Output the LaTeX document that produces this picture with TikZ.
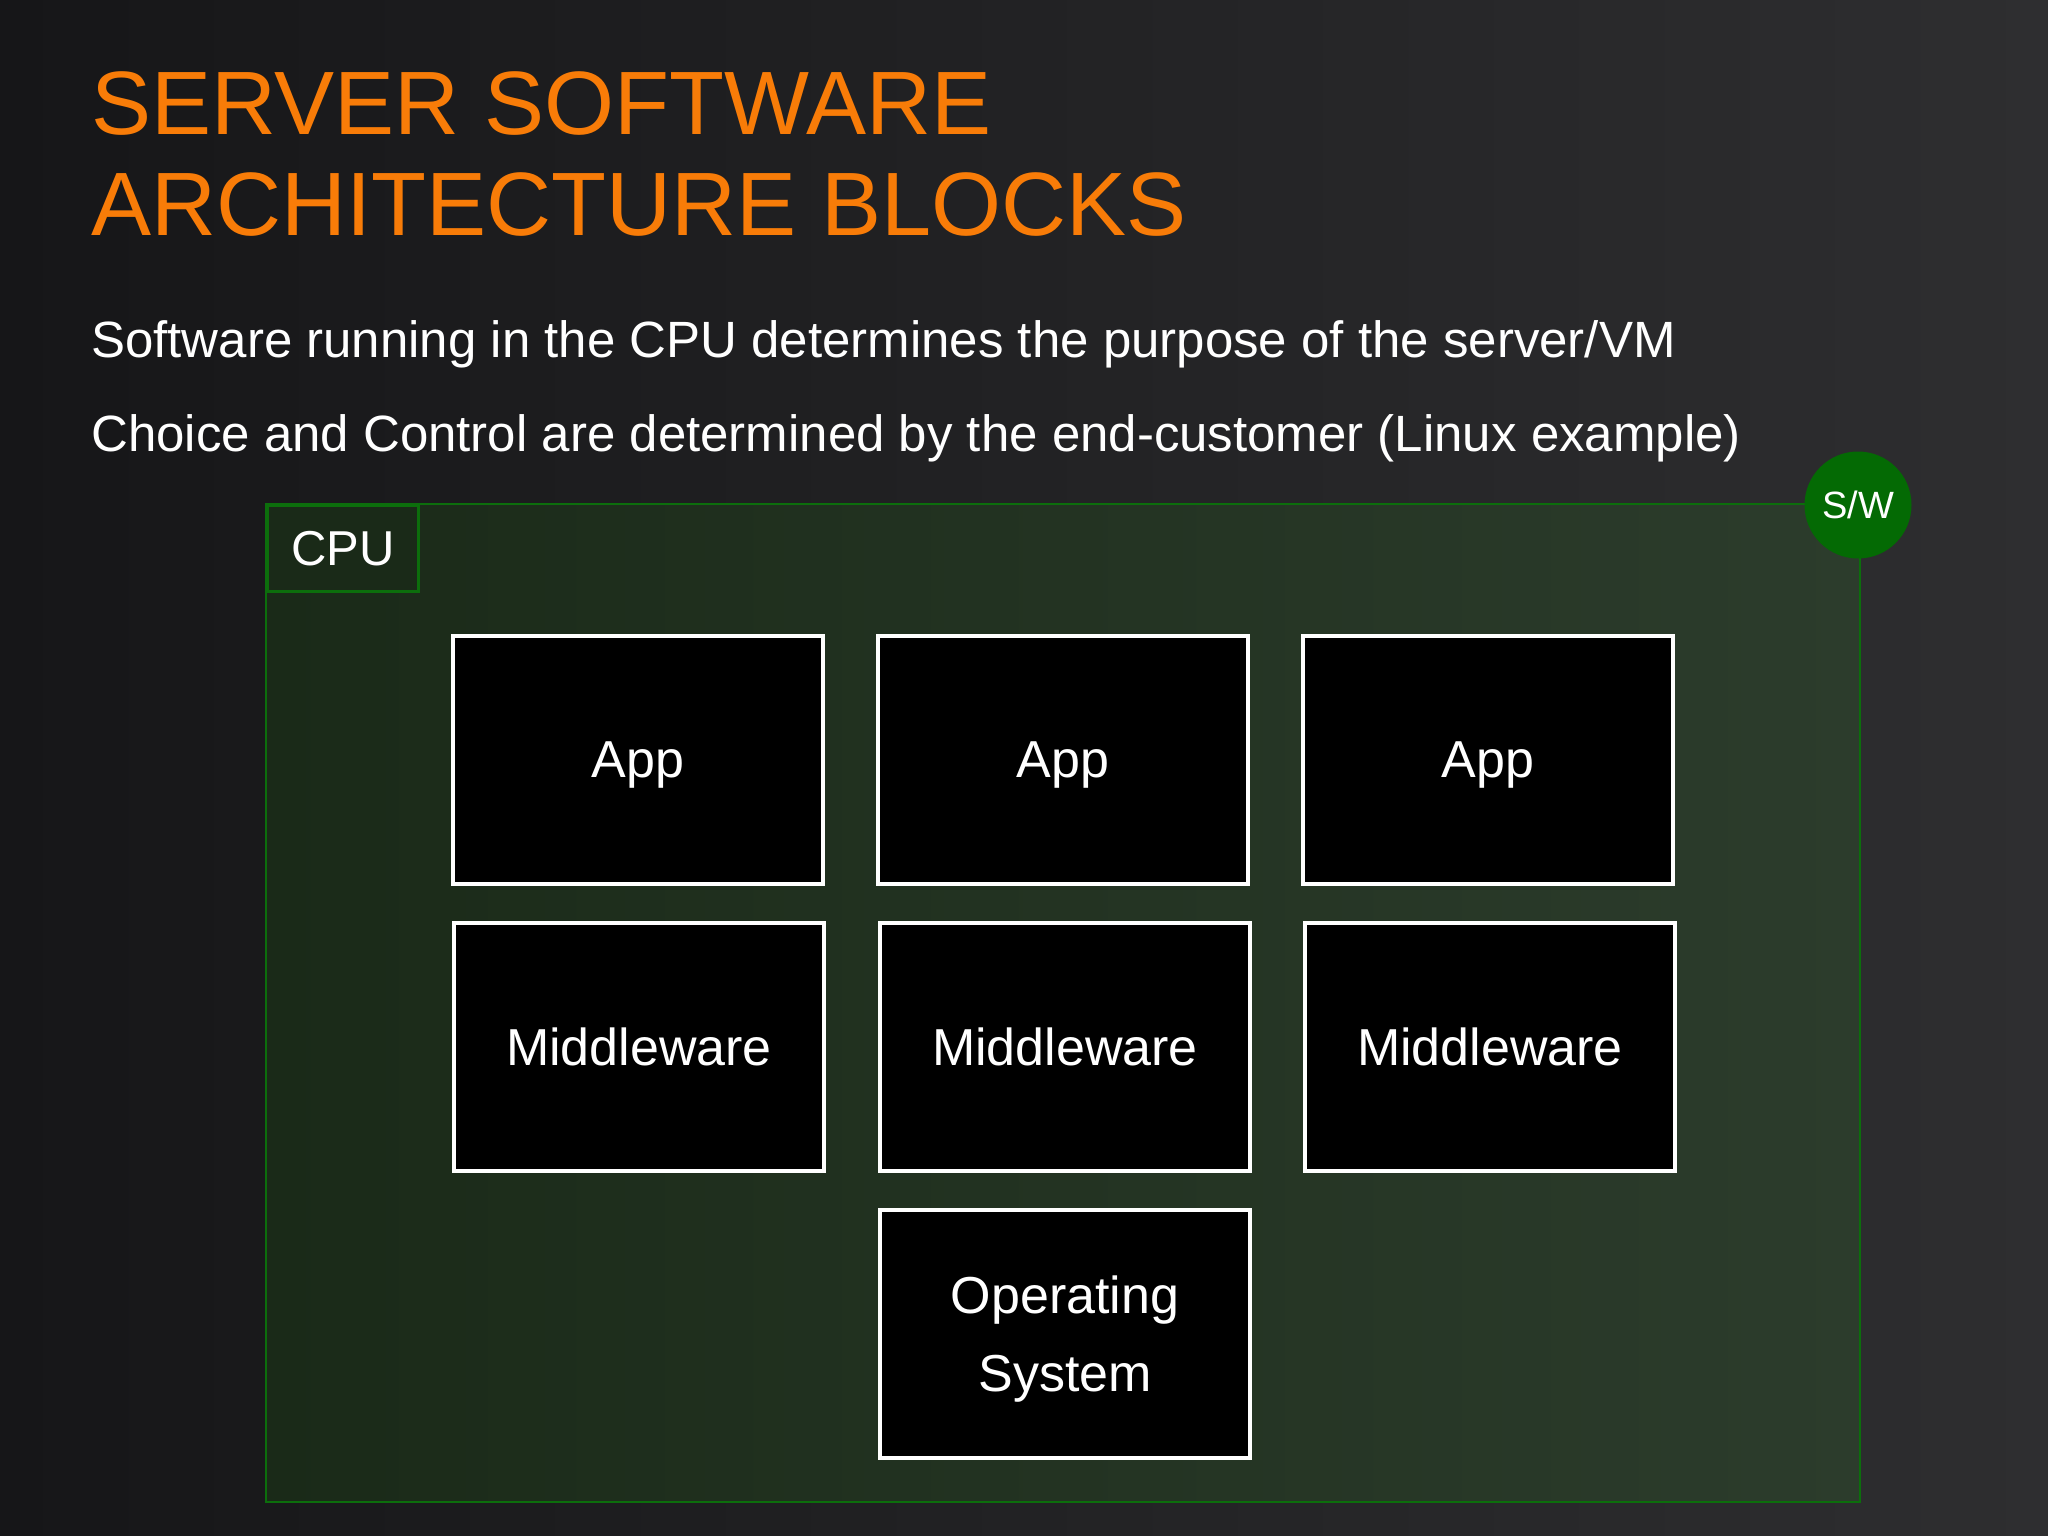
\documentclass[tikz,border=0pt]{standalone}
\usepackage{fontspec}
\setmainfont{Liberation Sans}
\usetikzlibrary{positioning}
\definecolor{slideorange}{RGB}{248,124,8}
\definecolor{bgleft}{RGB}{22,22,24}
\definecolor{bgright}{RGB}{46,46,48}
\definecolor{cpuleft}{RGB}{26,42,24}
\definecolor{cpuright}{RGB}{44,60,44}
\definecolor{cpuline}{RGB}{12,110,12}
\definecolor{swgreen}{RGB}{4,106,4}

\begin{document}
\begin{tikzpicture}[x=1pt, y=-1pt,
    block/.style={draw=white, fill=black, line width=3.5pt, minimum width=370pt, minimum height=248pt, align=center, text depth=0pt, text=white, font=\fontsize{52}{78}\selectfont},
    line/.style={anchor=base west, inner sep=0pt, text=white, font=\fontsize{51}{60}\selectfont}]
    % background
    \shade[left color=bgleft, right color=bgright] (0,0) rectangle (2048,1536);
    \useasboundingbox (0,0) rectangle (2048,1536);

    % title and lines
    \node[line, text=slideorange, font=\fontsize{90}{100}\selectfont] (title1) at (91,135) {SERVER SOFTWARE};
    \node[line, text=slideorange, font=\fontsize{90}{100}\selectfont] (title2) at (91,235) {ARCHITECTURE BLOCKS};
    \node[line] (sub1) at (91,357) {Software running in the CPU determines the purpose of the server/VM};
    \node[line] (sub2) at (91,451) {Choice and Control are determined by the end-customer (Linux example)};

    % CPU area
    \shade[left color=cpuleft, right color=cpuright] (266,504) rectangle (1860,1502);
    \draw[cpuline, line width=2.5pt] (266,504) rectangle (1860,1502);
    \node[draw=cpuline, fill=cpuleft, line width=2.5pt, minimum width=151pt, minimum height=86pt, anchor=north west, text=white, font=\fontsize{49}{55}\selectfont] (cpu) at (266,504) {CPU};
    \node[circle, fill=swgreen, minimum size=107pt, inner sep=0pt, text=white, font=\fontsize{38}{44}\selectfont] (sw) at (1858,505) {S/W};

    % software blocks
    \node[block] (app1) at (638,760) {App};
    \node[block] (app2) at (1063,760) {App};
    \node[block] (app3) at (1488,760) {App};
    \node[block] (mid1) at (639,1047) {Middleware};
    \node[block] (mid2) at (1065,1047) {Middleware};
    \node[block] (mid3) at (1490,1047) {Middleware};
    \node[block] (os) at (1065,1334) {Operating\\System};
\end{tikzpicture}
\end{document}
